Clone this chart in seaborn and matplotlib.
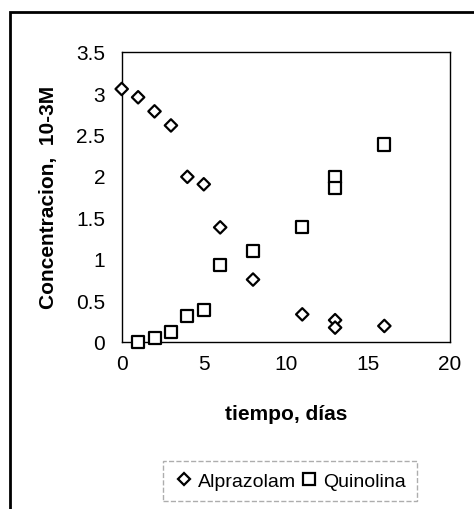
import numpy as np
import pandas as pd
import matplotlib.pyplot as plt
import seaborn as sns

# values
alp_t = [0, 1, 2, 3, 4, 5, 6, 8, 11, 13, 13, 16]
alp_c = [3.05, 2.95, 2.78, 2.61, 1.99, 1.90, 1.38, 0.75, 0.33, 0.26, 0.17, 0.19]
qui_t = [1, 2, 3, 4, 5, 6, 8, 11, 13, 13, 16]
qui_c = [0.0, 0.05, 0.12, 0.31, 0.38, 0.92, 1.09, 1.38, 1.99, 1.85, 2.38]
series = ["Alprazolam", "Quinolina"]

df = pd.concat([
    pd.DataFrame({"t": alp_t, "c": alp_c, "serie": series[0]}),
    pd.DataFrame({"t": qui_t, "c": qui_c, "serie": series[1]}),
])

sns.set_theme(style="white")
plt.rcParams["font.family"] = ["Liberation Sans", "DejaVu Sans"]
plt.rcParams["text.color"] = "black"
plt.rcParams["axes.labelcolor"] = "black"

fig = plt.figure(figsize=(4.74, 5.10), dpi=100)
ax = fig.add_axes([121.7 / 474, 1 - 342.7 / 510, (450 - 121.7) / 474, (342.7 - 52.7) / 510])

sns.scatterplot(data=df, x="t", y="c", style="serie", hue="serie",
                markers={"Alprazolam": "D", "Quinolina": "s"},
                palette={"Alprazolam": "white", "Quinolina": "white"},
                size="serie", sizes={"Alprazolam": 40, "Quinolina": 75},
                edgecolor="black", linewidth=1.6, clip_on=False, zorder=3, ax=ax, legend=False)

ax.set_xlim(0, 20)
ax.set_ylim(0, 3.5)
ax.set_xticks([0, 5, 10, 15, 20])
ax.set_yticks([0, 0.5, 1, 1.5, 2, 2.5, 3, 3.5])
ax.set_yticklabels(["0", "0.5", "1", "1.5", "2", "2.5", "3", "3.5"])
ax.tick_params(axis="both", length=0, labelsize=15, colors="black")
ax.tick_params(axis="y", pad=12)
ax.tick_params(axis="x", pad=9)
for s in ax.spines.values():
    s.set_color("black")
    s.set_linewidth(1.0)

ax.set_xlabel("tiempo, días", fontsize=15, fontweight="bold", labelpad=22, color="black")
ax.set_ylabel("Concentracion,  10-3M", fontsize=15, fontweight="bold", labelpad=13, color="black")

handles = [
    plt.Line2D([], [], marker="D", linestyle="", markersize=6, markerfacecolor="white",
               markeredgecolor="black", markeredgewidth=1.6),
    plt.Line2D([], [], marker="s", linestyle="", markersize=8.5, markerfacecolor="white",
               markeredgecolor="black", markeredgewidth=1.6),
]
leg = fig.legend(handles, series, loc="center", bbox_to_anchor=(290 / 474, 1 - 482 / 510), ncol=2,
                 frameon=True, fontsize=14, handletextpad=0.2, columnspacing=0.2, borderpad=0.6,
                 handlelength=1.0)
leg.get_frame().set_edgecolor("#999999")
leg.get_frame().set_linestyle("--")
leg.get_frame().set_boxstyle("square", pad=0)

# outer frame of the chart area
fig.patches.append(plt.Rectangle((10 / 474, -0.1), 1.2, 1 - 12.5 / 510 + 0.1, transform=fig.transFigure,
                                 fill=False, edgecolor="black", linewidth=2.0))

fig.savefig("out.png", dpi=100)
